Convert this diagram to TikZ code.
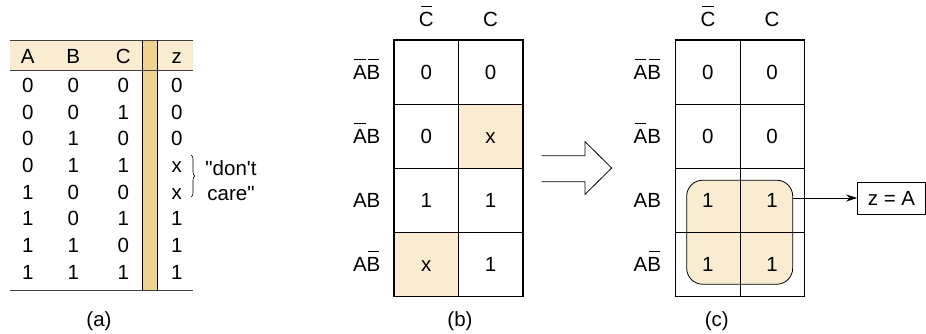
\documentclass[tikz,border=0pt]{standalone}
\usepackage{fontspec}
\setmainfont{Liberation Sans}[Ligatures=TeXOff]
\usepackage{xcolor}
\usetikzlibrary{arrows.meta,decorations.pathreplacing}
\definecolor{tanlight}{HTML}{F9ECD0}
\definecolor{tanbar}{HTML}{EED290}
\newcommand{\nbar}[1]{\ooalign{#1\cr\hfil\rule[0.98em]{0.55em}{0.7pt}\hfil\cr}}

\begin{document}
\begin{tikzpicture}[x=1pt, y=-1pt, font=\fontsize{20.5}{24.5}\selectfont,
  entry/.style={inner sep=0pt, text height=14.8pt, text depth=0pt},
  kcell/.style={entry, draw, line width=0.8pt, minimum width=64.3pt, minimum height=64pt},
  kframe/.style={line width=1.6pt},
  tblrule/.style={line width=0.7pt, black!75},
  barline/.style={line width=1.1pt},
]
\useasboundingbox (0,0) rectangle (926,333);

% (a) truth table
\fill[tanlight] (10,40) rectangle (193,70);
\fill[tanbar] (142.7,40) rectangle (157.3,290);
\draw[tblrule] (10,40) -- (193,40) (10,70) -- (193,70) (10,290) -- (193,290);
\draw[barline] (142.7,40) -- (142.7,290) (157.3,40) -- (157.3,290);

\node[entry] (hA) at (27.7,56) {A};
\node[entry] (hB) at (73.3,56) {B};
\node[entry] (hC) at (123.3,56) {C};
\node[entry] (hz) at (176.7,56) {z};
\foreach \a/\b/\c/\z [count=\i] in {0/0/0/0,0/0/1/0,0/1/0/0,0/1/1/x,1/0/0/x,1/0/1/1,1/1/0/1,1/1/1/1}{
  \node[entry] (a\i) at (27.7,58.4+26.65*\i) {\a};
  \node[entry] (b\i) at (73.3,58.4+26.65*\i) {\b};
  \node[entry] (c\i) at (123.3,58.4+26.65*\i) {\c};
  \node[entry] (z\i) at (176.7,58.4+26.65*\i) {\z};
}
\coordinate (dcTop) at (191,155);
\coordinate (dcBot) at (191,197);
\draw[decorate, decoration={brace, amplitude=4pt}, line width=0.6pt] (dcTop) -- (dcBot);
\node[align=center, inner sep=0pt] (dc) at (231,180.5) {"don't\\care"};
\node (capa) at (99,320.8) {(a)};

% (b) map with don't cares
\node[entry] (bCn) at (426.2,19.5) {\nbar{C}};
\node[entry] (bC) at (490.5,19.5) {C};
\node[entry] (bR1) at (366.7,72) {\nbar{A}\nbar{B}};
\node[entry] (bR2) at (366.7,136) {\nbar{A}B};
\node[entry] (bR3) at (366.7,200) {AB};
\node[entry] (bR4) at (366.7,264) {A\nbar{B}};
\node[kcell] (b11) at (426.2,72) {0};
\node[kcell] (b12) at (490.5,72) {0};
\node[kcell] (b21) at (426.2,136) {0};
\node[kcell, fill=tanlight] (b22) at (490.5,136) {x};
\node[kcell] (b31) at (426.2,200) {1};
\node[kcell] (b32) at (490.5,200) {1};
\node[kcell, fill=tanlight] (b41) at (426.2,264) {x};
\node[kcell] (b42) at (490.5,264) {1};
\draw[kframe] (b11.north west) rectangle (b42.south east);
\node (capb) at (460,320.8) {(b)};

\draw[line width=0.8pt] (541.7,155.7) -- (585,155.7) -- (585,141.7) -- (611.7,168)
  -- (585,194.3) -- (585,181.7) -- (541.7,181.7);

% (c) grouped map
\node[draw, fill=tanlight, rounded corners=16pt, line width=0.8pt,
  minimum width=106pt, minimum height=104pt] (grp) at (739.7,232.2) {};
\node[entry] (cCn) at (707.9,19.5) {\nbar{C}};
\node[entry] (cC) at (772.1,19.5) {C};
\node[entry] (cR1) at (647.3,72) {\nbar{A}\nbar{B}};
\node[entry] (cR2) at (647.3,136) {\nbar{A}B};
\node[entry] (cR3) at (647.3,200) {AB};
\node[entry] (cR4) at (647.3,264) {A\nbar{B}};
\node[kcell] (c11) at (707.9,72) {0};
\node[kcell] (c12) at (772.1,72) {0};
\node[kcell] (c21) at (707.9,136) {0};
\node[kcell] (c22) at (772.1,136) {0};
\node[kcell] (c31) at (707.9,200) {1};
\node[kcell] (c32) at (772.1,200) {1};
\node[kcell] (c41) at (707.9,264) {1};
\node[kcell] (c42) at (772.1,264) {1};
\draw[kframe] (c11.north west) rectangle (c42.south east);
\node (capc) at (716.7,320.8) {(c)};

\node[draw, line width=0.8pt, minimum width=68pt, minimum height=32pt, inner sep=0pt] (res) at (891.5,198) {z = A};
\draw[-{Stealth[length=11pt,width=7pt]}, line width=0.8pt] (grp.east |- res.west) -- (res.west);
\end{tikzpicture}
\end{document}
